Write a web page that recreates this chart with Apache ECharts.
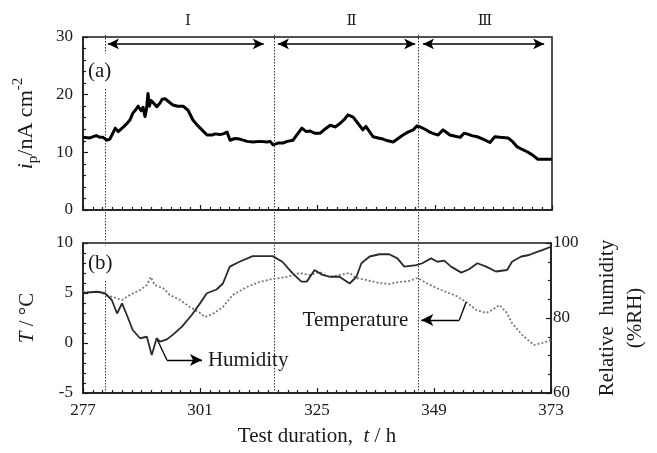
<!DOCTYPE html>
<html>
<head>
<meta charset="utf-8">
<script src="https://cdn.jsdelivr.net/npm/echarts@6/dist/echarts.min.js"></script>
<style>
  html, body { margin: 0; padding: 0; background: #fff; }
  #chart { width: 657px; height: 453px; }
</style>
</head>
<body>
<div id="chart"></div>
<script>
// (a) polarisation current i_p, nA cm^-2, against test duration (h)
const hoursIp = [277.0, 278.4, 279.7, 280.5, 281.1, 281.9, 282.5, 283.1, 283.6, 284.2, 284.6, 285.4, 286.0, 286.6, 287.2, 287.8, 288.3, 288.9, 289.3, 289.7, 290.0, 290.3, 290.6, 290.9, 291.5, 292.1, 292.8, 293.2, 293.8, 294.2, 294.8, 295.4, 296.4, 297.5, 298.5, 299.5, 300.3, 301.0, 301.8, 302.4, 303.4, 304.0, 304.4, 305.0, 305.7, 306.5, 307.1, 308.1, 309.1, 310.6, 311.8, 313.2, 314.7, 315.3, 315.9, 316.9, 317.9, 318.8, 320.0, 321.0, 321.8, 322.7, 323.5, 324.5, 325.5, 326.5, 327.6, 328.6, 329.6, 330.6, 331.2, 332.3, 333.3, 334.3, 334.9, 335.3, 336.4, 337.4, 338.4, 339.4, 340.5, 341.5, 342.5, 343.5, 344.6, 345.4, 346.0, 347.0, 348.0, 348.9, 349.7, 350.7, 351.5, 352.1, 353.2, 354.2, 355.0, 355.6, 356.6, 357.7, 358.9, 360.3, 361.3, 362.4, 364.0, 365.0, 365.8, 366.9, 367.9, 368.9, 370.1, 371.5, 373.0];
const currentIp = [12.6, 12.5, 12.9, 12.6, 12.6, 12.1, 12.3, 13.3, 14.2, 13.6, 13.8, 14.5, 15.0, 15.6, 16.8, 17.4, 18.0, 17.2, 17.8, 16.2, 17.5, 20.2, 18.0, 19.0, 18.5, 17.9, 18.6, 19.2, 19.3, 19.0, 18.6, 18.2, 18.0, 18.0, 17.3, 15.6, 14.8, 14.2, 13.5, 13.0, 13.0, 13.2, 13.0, 13.1, 13.2, 13.5, 12.1, 12.4, 12.3, 11.9, 11.8, 11.9, 11.8, 11.9, 11.3, 11.6, 11.6, 11.9, 12.1, 13.3, 14.2, 13.6, 13.7, 13.3, 13.3, 14.0, 14.7, 14.4, 15.0, 15.8, 16.5, 16.1, 15.0, 13.9, 14.5, 14.4, 12.7, 12.5, 12.3, 12.0, 11.8, 12.4, 13.0, 13.5, 13.9, 14.6, 14.4, 14.0, 13.5, 13.2, 13.0, 13.9, 13.4, 13.0, 12.8, 12.6, 13.3, 13.2, 12.9, 12.7, 12.3, 11.7, 12.7, 12.6, 12.5, 11.8, 11.0, 10.5, 10.1, 9.6, 8.8, 8.8, 8.8];

// (b) relative humidity, %RH (right axis)
const hoursRh = [277.0, 279.9, 281.5, 282.9, 284.0, 285.0, 286.0, 287.2, 288.7, 290.1, 291.1, 292.1, 292.8, 294.2, 295.4, 297.3, 299.3, 301.0, 302.4, 304.4, 305.7, 307.1, 309.1, 311.8, 313.8, 315.9, 317.9, 320.0, 321.8, 322.9, 324.5, 326.1, 327.6, 329.6, 331.7, 333.1, 334.1, 335.8, 337.8, 339.8, 341.5, 342.9, 345.4, 346.6, 348.4, 349.7, 351.1, 352.5, 354.6, 356.2, 357.9, 359.7, 361.7, 364.0, 365.0, 366.9, 368.5, 369.9, 371.2, 373.0];
const humidity = [86.7, 87.0, 86.6, 84.8, 81.2, 83.9, 80.8, 76.8, 74.6, 75.0, 70.1, 74.6, 73.7, 74.3, 75.5, 77.7, 80.8, 83.9, 86.6, 87.6, 89.2, 93.7, 95.0, 96.5, 96.5, 96.5, 95.0, 91.9, 89.7, 89.7, 92.8, 91.5, 91.0, 91.0, 89.2, 91.0, 94.6, 96.4, 97.0, 97.0, 95.9, 93.7, 94.1, 94.6, 95.9, 95.0, 95.3, 93.7, 92.1, 93.0, 94.6, 93.7, 92.4, 92.8, 95.0, 96.4, 96.8, 97.5, 98.1, 99.0];

// (b) temperature, °C (left axis)
const hoursT = [277.0, 280.5, 281.9, 283.1, 285.0, 286.6, 288.7, 290.1, 290.9, 291.7, 293.4, 294.8, 296.9, 298.9, 301.0, 302.0, 303.6, 305.7, 307.7, 310.6, 313.2, 315.9, 318.8, 321.4, 323.5, 325.5, 327.6, 329.6, 331.7, 333.1, 335.1, 337.8, 339.8, 341.9, 343.9, 345.6, 347.4, 349.5, 351.5, 353.6, 355.6, 357.7, 359.7, 360.9, 362.4, 363.8, 365.0, 367.1, 369.5, 371.2, 373.0];
const temperature = [5.1, 5.1, 4.8, 4.6, 4.3, 4.8, 5.3, 5.8, 6.6, 5.8, 5.5, 4.8, 4.3, 3.6, 3.0, 2.6, 2.9, 3.6, 4.8, 5.6, 6.1, 6.4, 6.6, 7.0, 6.8, 7.1, 6.6, 6.8, 7.0, 6.5, 6.3, 6.0, 5.9, 6.1, 6.2, 6.5, 6.0, 5.5, 5.1, 4.7, 4.1, 3.3, 3.0, 3.3, 3.8, 3.1, 2.0, 0.8, -0.2, 0.0, 0.3];

// x axis labels and tick positions
const xTickLabels = [277, 301, 325, 349, 373];
const xMinorStep = 2;

// test stages
const stageBounds = [281.5, 316.0, 345.6];
const stageNames = ['Ⅰ', 'Ⅱ', 'Ⅲ'];
const stageNameAt = [298.5, 332.0, 359.3];
const stageSpans = [[282.1, 314.0], [316.9, 345.0], [346.6, 371.4]];
const stageArrowLevel = 28.8;
const stageNameLevel = 32.8;

// call-out leaders: [start on curve, elbow, arrow tip]
const humidityLeader = [[292.1, 74.6], [294.2, 68.8], [301.4, 68.8]];
const temperatureLeader = [[355.6, 4.1], [354.2, 2.3], [346.4, 2.3]];

const xMinorTicks = [];
for (let v = xTickLabels[0]; v <= xTickLabels[xTickLabels.length - 1]; v += xMinorStep) {
  if (xTickLabels.indexOf(v) < 0) xMinorTicks.push(v);
}

const zip = (xs, ys) => xs.map((x, i) => [x, ys[i]]);

const SERIF = '"Liberation Serif", "Times New Roman", serif';
const INK = '#1a1a1a';

const chart = echarts.init(document.getElementById('chart'), null, { renderer: 'canvas' });

function mainX(gridIndex, showLabels) {
  return {
    type: 'value', gridIndex, min: 277, max: 373, position: 'bottom',
    axisLine: { show: true, onZero: false, lineStyle: { color: INK, width: 1.5 } },
    axisTick: { show: true, inside: true, length: 5, customValues: xTickLabels, lineStyle: { color: INK, width: 1.2 } },
    axisLabel: showLabels
      ? { show: true, customValues: xTickLabels, margin: 9, fontFamily: SERIF, fontSize: 17, color: INK }
      : { show: false },
    splitLine: { show: false }
  };
}
// second axis on the same baseline, carrying only the 2-hour minor ticks
function minorX(gridIndex) {
  return {
    type: 'value', gridIndex, min: 277, max: 373, position: 'bottom',
    axisLine: { show: false, onZero: false },
    axisTick: { show: true, inside: true, length: 3, customValues: xMinorTicks, lineStyle: { color: INK, width: 1.2 } },
    axisLabel: { show: false },
    splitLine: { show: false }
  };
}
function yAx(gridIndex, min, max, interval, minorSplit, position, labelMargin) {
  return {
    type: 'value', gridIndex, min, max, interval, position,
    axisLine: { show: true, onZero: false, lineStyle: { color: INK, width: 1.5 } },
    axisTick: { show: true, inside: true, length: 5, lineStyle: { color: INK, width: 1.2 } },
    minorTick: { show: true, splitNumber: minorSplit, length: 3, lineStyle: { color: INK, width: 1.2 } },
    axisLabel: { show: true, margin: labelMargin, fontFamily: SERIF, fontSize: 17, color: INK },
    splitLine: { show: false }
  };
}

const baseName = { fontFamily: SERIF, fontSize: 21, color: INK };

const xAxis = [mainX(0, false), minorX(0), mainX(1, true), minorX(1)];
xAxis[2].name = 'Test duration,  {it|t} / h';
xAxis[2].nameLocation = 'middle';
xAxis[2].nameGap = 33;
xAxis[2].nameTextStyle = Object.assign({}, baseName, {
  rich: { it: { fontFamily: SERIF, fontSize: 21, fontStyle: 'italic', color: INK } }
});

const yTop = yAx(0, 0, 30, 10, 5, 'left', 10);
yTop.name = '{it|i}{sub|p}{n|/nA cm}{sup|-2}';
yTop.nameLocation = 'middle';
yTop.nameRotate = 90;
yTop.nameGap = 42;
yTop.nameTextStyle = Object.assign({}, baseName, {
  rich: {
    it: { fontFamily: SERIF, fontSize: 22, fontStyle: 'italic', color: INK, lineHeight: 30, verticalAlign: 'middle' },
    sub: { fontFamily: SERIF, fontSize: 15, color: INK, lineHeight: 30, verticalAlign: 'bottom' },
    n: { fontFamily: SERIF, fontSize: 22, color: INK, lineHeight: 30, verticalAlign: 'middle' },
    sup: { fontFamily: SERIF, fontSize: 15, color: INK, lineHeight: 30, verticalAlign: 'top' }
  }
});

const yT = yAx(1, -5, 10, 5, 5, 'left', 10);
yT.name = '{it|T} / °C';
yT.nameLocation = 'middle';
yT.nameRotate = 90;
yT.nameGap = 45;
yT.nameTextStyle = Object.assign({}, baseName, {
  rich: { it: { fontFamily: SERIF, fontSize: 21, fontStyle: 'italic', color: INK } }
});

const yRh = yAx(1, 60, 100, 20, 4, 'right', 2);
yRh.name = 'Relative  humidity\n(%RH)';
yRh.nameLocation = 'middle';
yRh.nameRotate = 90;
yRh.nameGap = 42;
yRh.nameTextStyle = Object.assign({}, baseName, { lineHeight: 28 });

function leaderLines(pts) {
  return [
    [{ coord: pts[0], symbol: 'none' }, { coord: pts[1], symbol: 'none' }],
    [{ coord: pts[1], symbol: 'none' }, { coord: pts[2], symbol: 'arrow', symbolSize: [9, 12] }]
  ];
}

const option = {
  animation: false,
  backgroundColor: '#fff',
  grid: [
    { left: 83, top: 37, width: 469, height: 173, show: true, borderColor: INK, borderWidth: 1.5, backgroundColor: 'transparent' },
    { left: 83, top: 243, width: 469, height: 150, show: true, borderColor: INK, borderWidth: 1.5, backgroundColor: 'transparent' }
  ],
  xAxis,
  yAxis: [yTop, yT, yRh],
  series: [
    {
      name: 'ip', type: 'line', xAxisIndex: 0, yAxisIndex: 0,
      data: zip(hoursIp, currentIp),
      showSymbol: false, symbol: 'none', silent: true, z: 5,
      lineStyle: { color: '#000', width: 3, join: 'round' },
      markLine: {
        silent: true, animation: false,
        symbol: ['arrow', 'arrow'], symbolSize: [8, 11],
        label: { show: false },
        lineStyle: { color: '#000', width: 1.5, type: 'solid' },
        data: stageSpans.map(s => [{ coord: [s[0], stageArrowLevel] }, { coord: [s[1], stageArrowLevel] }])
      }
    },
    {
      name: 'Temperature', type: 'line', xAxisIndex: 2, yAxisIndex: 1,
      data: zip(hoursT, temperature),
      showSymbol: false, symbol: 'none', silent: true, z: 4,
      lineStyle: { color: '#7a7a7a', width: 1.8, type: [2, 2] },
      markLine: {
        silent: true, animation: false, symbol: ['none', 'none'],
        label: { show: false },
        lineStyle: { color: '#000', width: 1.3, type: 'solid' },
        data: leaderLines(temperatureLeader)
      },
      markPoint: {
        silent: true, animation: false,
        data: [{
          coord: temperatureLeader[2], symbol: 'circle', symbolSize: 0,
          label: { show: true, position: 'left', distance: 13, formatter: 'Temperature', fontFamily: SERIF, fontSize: 21, color: INK }
        }]
      }
    },
    {
      name: 'Humidity', type: 'line', xAxisIndex: 2, yAxisIndex: 2,
      data: zip(hoursRh, humidity),
      showSymbol: false, symbol: 'none', silent: true, z: 5,
      lineStyle: { color: '#2a2a2a', width: 1.8 },
      markLine: {
        silent: true, animation: false, symbol: ['none', 'none'],
        label: { show: false },
        lineStyle: { color: '#000', width: 1.3, type: 'solid' },
        data: leaderLines(humidityLeader)
      },
      markPoint: {
        silent: true, animation: false,
        data: [{
          coord: humidityLeader[2], symbol: 'circle', symbolSize: 0,
          label: { show: true, position: 'right', distance: 6, formatter: 'Humidity', fontFamily: SERIF, fontSize: 21, color: INK }
        }]
      }
    }
  ]
};

chart.setOption(option);

// stage boundaries run through both panels; stage names sit above panel (a)
const topY = chart.convertToPixel({ yAxisIndex: 0 }, 30) - 2;
const bottomY = chart.convertToPixel({ yAxisIndex: 1 }, -5);
const graphic = [];
stageBounds.forEach(v => {
  const x = Math.round(chart.convertToPixel({ xAxisIndex: 0 }, v)) + 0.5;
  graphic.push({
    type: 'line', z: 3, silent: true,
    shape: { x1: x, y1: topY, x2: x, y2: bottomY },
    style: { stroke: '#333', lineWidth: 1, lineDash: [1.5, 1.5] }
  });
});
stageNames.forEach((name, i) => {
  const p = chart.convertToPixel({ xAxisIndex: 0, yAxisIndex: 0 }, [stageNameAt[i], stageNameLevel]);
  graphic.push({
    type: 'text', z: 10, silent: true, x: p[0], y: p[1],
    style: { text: name, fontFamily: '"DejaVu Serif", ' + SERIF, fontSize: 15, fill: INK, align: 'center', verticalAlign: 'middle' }
  });
});
const panelTag = (txt, yAxisIndex, value) => {
  const y = chart.convertToPixel({ yAxisIndex }, value);
  const x = chart.convertToPixel({ xAxisIndex: 0 }, 277) + 4;
  return {
    type: 'text', z: 20, silent: true, x, y,
    style: { text: txt, fontFamily: SERIF, fontSize: 21, fill: INK, align: 'left', verticalAlign: 'middle',
             backgroundColor: '#fff', padding: [7, 1] }
  };
};
graphic.push(panelTag('(a)', 0, 24.1));
graphic.push(panelTag('(b)', 1, 8.0));
chart.setOption({ graphic });
</script>
</body>
</html>
